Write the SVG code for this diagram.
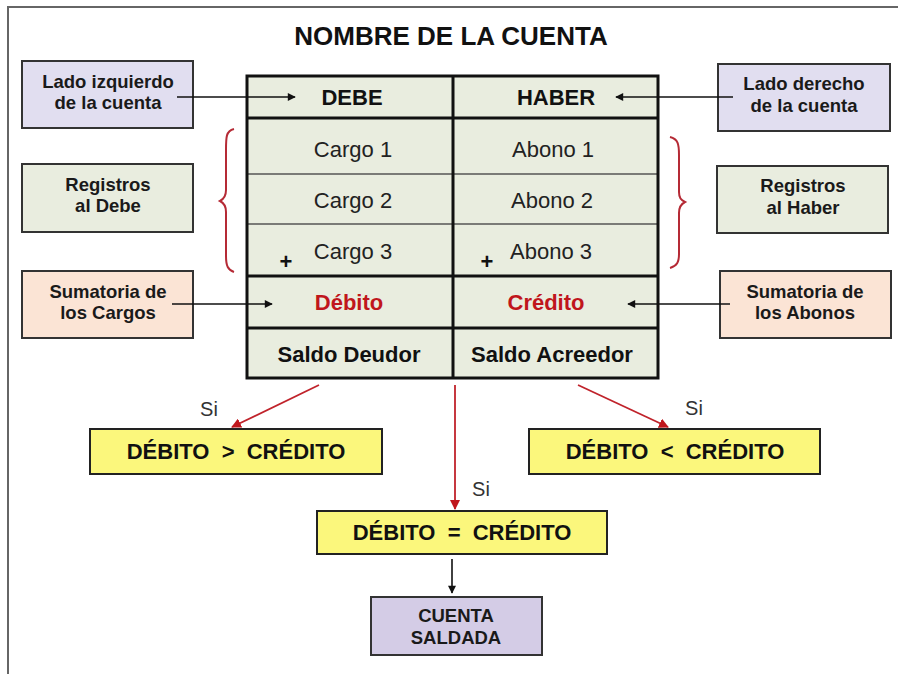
<svg xmlns="http://www.w3.org/2000/svg" width="898" height="674" viewBox="0 0 898 674">
<defs>
<style>
text{font-family:"Liberation Sans",Arial,sans-serif;text-anchor:middle;dominant-baseline:central}
.b{font-weight:bold}
.lbl{font-weight:bold;font-size:18.5px;fill:#1a1a1a}
.cell{font-size:22px;fill:#222}
.hdr{font-weight:bold;font-size:22px;fill:#111}
.red{font-weight:bold;font-size:22px;fill:#c0161c}
.cond{font-weight:bold;font-size:22px;fill:#111}
.si{font-size:20px;fill:#333}
.box{stroke:#333;stroke-width:2}
.ylw{fill:#fbf77c;stroke:#222;stroke-width:2}
.blk{stroke:#111;stroke-width:1.6;fill:none}
.rd{stroke:#c0232b;stroke-width:1.8;fill:none}
.brace{stroke:#b52a35;stroke-width:2;fill:none}
</style>
<marker id="ab" viewBox="0 0 10 10" refX="9" refY="5" markerWidth="9" markerHeight="8" orient="auto" markerUnits="userSpaceOnUse"><path d="M0,0L10,5L0,10z" fill="#111"/></marker>
<marker id="ar" viewBox="0 0 10 10" refX="9" refY="5" markerWidth="10" markerHeight="10" orient="auto" markerUnits="userSpaceOnUse"><path d="M0,0L10,5L0,10z" fill="#c0161c"/></marker>
</defs>
<rect width="898" height="674" fill="#fff"/>
<path d="M8,674V7H898" stroke="#666" stroke-width="2" fill="none"/>
<text class="b" x="451" y="36" font-size="26" fill="#111">NOMBRE DE LA CUENTA</text>

<g id="table">
<rect x="247" y="76" width="411" height="302" fill="#e9eddf"/>
<g stroke="#555" stroke-width="1.5">
<line x1="247" y1="174" x2="658" y2="174"/>
<line x1="247" y1="224" x2="658" y2="224"/>
</g>
<g stroke="#111" stroke-width="3">
<line x1="247" y1="118" x2="658" y2="118"/>
<line x1="247" y1="276" x2="658" y2="276"/>
<line x1="247" y1="328" x2="658" y2="328"/>
<line x1="453" y1="76" x2="453" y2="378"/>
<rect x="247" y="76" width="411" height="302" fill="none"/>
</g>
<text class="hdr" x="352" y="97">DEBE</text>
<text class="hdr" x="556" y="97">HABER</text>
<text class="cell" x="353" y="149">Cargo 1</text>
<text class="cell" x="353" y="200">Cargo 2</text>
<text class="cell" x="353" y="251">Cargo 3</text>
<text class="cell" x="553" y="149">Abono 1</text>
<text class="cell" x="552" y="200">Abono 2</text>
<text class="cell" x="551" y="251">Abono 3</text>
<text class="hdr" x="286" y="261">+</text>
<text class="hdr" x="487" y="261">+</text>
<text class="red" x="349" y="302">Débito</text>
<text class="red" x="546" y="302">Crédito</text>
<text class="hdr" x="349" y="354">Saldo Deudor</text>
<text class="hdr" x="552" y="354">Saldo Acreedor</text>
</g>

<g id="lado-izq"><rect class="box" x="22" y="61" width="171" height="67" fill="#e1def0"/><text class="lbl" x="108" y="81">Lado izquierdo</text><text class="lbl" x="108" y="102">de la cuenta</text></g>
<g id="reg-debe"><rect class="box" x="22" y="164" width="171" height="68" fill="#e9eddf"/><text class="lbl" x="108" y="184">Registros</text><text class="lbl" x="108" y="205">al Debe</text></g>
<g id="sum-cargos"><rect class="box" x="22" y="271" width="171" height="67" fill="#fbe4d5"/><text class="lbl" x="108" y="291">Sumatoria de</text><text class="lbl" x="108" y="312">los Cargos</text></g>
<g id="lado-der"><rect class="box" x="718" y="64" width="172" height="67" fill="#e1def0"/><text class="lbl" x="804" y="83">Lado derecho</text><text class="lbl" x="804" y="105">de la cuenta</text></g>
<g id="reg-haber"><rect class="box" x="717" y="166" width="171" height="67" fill="#e9eddf"/><text class="lbl" x="803" y="185">Registros</text><text class="lbl" x="803" y="207">al Haber</text></g>
<g id="sum-abonos"><rect class="box" x="720" y="271" width="171" height="67" fill="#fbe4d5"/><text class="lbl" x="805" y="291">Sumatoria de</text><text class="lbl" x="805" y="312">los Abonos</text></g>

<g id="braces">
<path class="brace" d="M234,129C226,131 226,137 226,150V190C226,196 224,199 220,201C224,203 226,206 226,212V256C226,266 228,270 234,272"/>
<path class="brace" d="M670,137C678,139 679,144 679,155V192C679,198 681,200 685,202C681,204 679,207 679,213V254C679,262 677,266 670,268"/>
</g>

<g id="mayor"><rect class="ylw" x="90" y="429" width="292" height="45"/><text class="cond" x="236" y="451" xml:space="preserve">DÉBITO  &gt;  CRÉDITO</text></g>
<g id="menor"><rect class="ylw" x="529" y="429" width="291" height="45"/><text class="cond" x="675" y="451" xml:space="preserve">DÉBITO  &lt;  CRÉDITO</text></g>
<g id="igual"><rect class="ylw" x="317" y="511" width="290" height="43"/><text class="cond" x="462" y="532" xml:space="preserve">DÉBITO  =  CRÉDITO</text></g>
<g id="saldada"><rect class="box" x="371" y="597" width="171" height="58" fill="#d4cce6"/><text class="lbl" x="456" y="615" font-size="19">CUENTA</text><text class="lbl" x="456" y="637" font-size="19">SALDADA</text></g>

<g id="connectors">
<line class="blk" x1="177" y1="97" x2="295" y2="97" marker-end="url(#ab)"/>
<line class="blk" x1="733" y1="97" x2="616" y2="97" marker-end="url(#ab)"/>
<line class="blk" x1="172" y1="304" x2="272" y2="304" marker-end="url(#ab)"/>
<line class="blk" x1="730" y1="304" x2="628" y2="304" marker-end="url(#ab)"/>
<line class="rd" x1="319" y1="385" x2="232" y2="427" marker-end="url(#ar)"/>
<line class="rd" x1="578" y1="385" x2="668" y2="427" marker-end="url(#ar)"/>
<line class="rd" x1="455" y1="385" x2="455" y2="509" marker-end="url(#ar)"/>
<line class="blk" x1="452" y1="559" x2="452" y2="593" marker-end="url(#ab)"/>
<text class="si" x="209" y="409">Si</text>
<text class="si" x="694" y="408">Si</text>
<text class="si" x="481" y="489">Si</text>
</g>
</svg>
